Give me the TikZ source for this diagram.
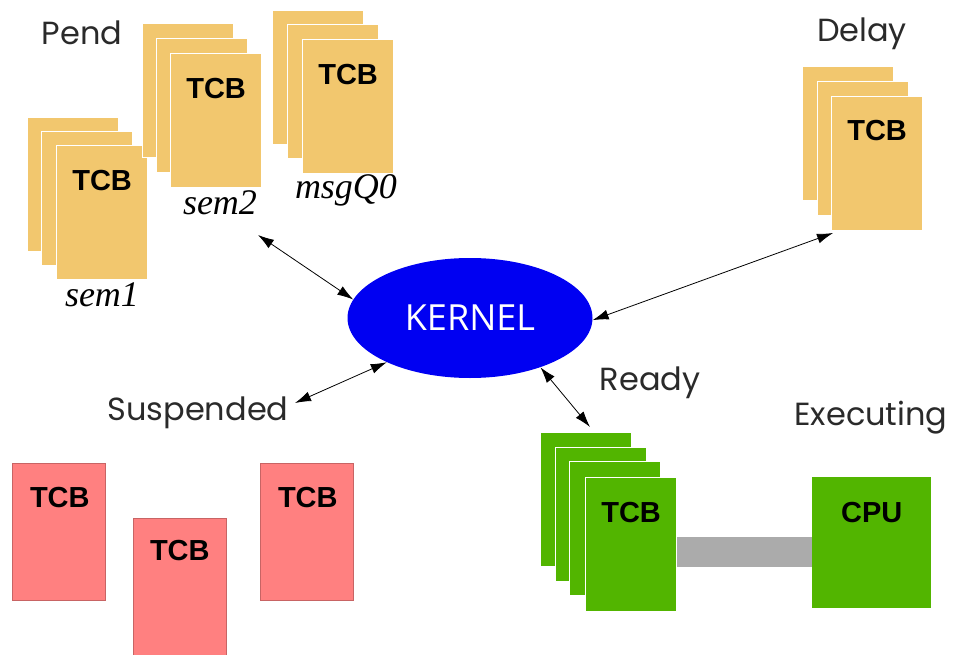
\documentclass[tikz,border=0pt]{standalone}
\usepackage{fontspec}
\usetikzlibrary{arrows.meta,shapes.geometric,calc}
\newfontfamily\lblfont{Poppins}
\newfontfamily\tcbfont{Liberation Sans}
\newfontfamily\kfont{Open Sans}
\newfontfamily\itfont{Liberation Serif}
\definecolor{cardyellow}{HTML}{F2C76E}
\definecolor{cardgreen}{HTML}{52B500}
\definecolor{cardred}{HTML}{FF8080}
\definecolor{redline}{HTML}{C86464}
\definecolor{kblue}{HTML}{0000F2}
\definecolor{bargray}{HTML}{ABABAB}
\definecolor{lblgray}{HTML}{2A2A2A}
\begin{document}
\begin{tikzpicture}[x=1pt,y=-1pt,
  card/.style={rectangle,inner sep=0pt,minimum width=91pt,minimum height=134pt,anchor=north west,draw=white,line width=1.2pt},
  ycard/.style={card,fill=cardyellow},
  gcard/.style={card,fill=cardgreen,minimum height=134pt},
  rcard/.style={card,fill=cardred,draw=redline,line width=0.6pt,minimum width=93pt,minimum height=137pt},
  tcb/.style={inner sep=0pt,font=\tcbfont\bfseries\fontsize{29}{30}\selectfont,text height=20.8pt,text depth=0pt},
  lbl/.style={inner sep=0pt,font=\lblfont\fontsize{32}{33}\selectfont,text=lblgray},
  ital/.style={inner sep=0pt,font=\itfont\itshape\fontsize{36}{37}\selectfont},
  conn/.style={{Latex[length=16pt,width=10pt]}-{Latex[length=16pt,width=10pt]},line width=0.8pt,black},
  bar/.style={line width=30pt,bargray}
]
\useasboundingbox (0,0) rectangle (953,655);

% ---- Pend: sem1
\node[ycard] (s1a) at (27,117) {};
\node[ycard] (s1b) at (41,131) {};
\node[ycard] (s1c) at (56,145) {};
\node[tcb] (s1t) at ($(s1c.north)+(0,35)$) {TCB};
\node[ital] (s1l) at (102,295) {sem1};
% ---- sem2
\node[ycard] (s2a) at (142,23) {};
\node[ycard] (s2b) at (156,38) {};
\node[ycard] (s2c) at (170,53) {};
\node[tcb] (s2t) at ($(s2c.north)+(0,35)$) {TCB};
\node[ital] (s2l) at (220,203) {sem2};
% ---- msgQ0
\node[ycard] (mqa) at (272,10) {};
\node[ycard] (mqb) at (287,24) {};
\node[ycard] (mqc) at (302,39) {};
\node[tcb] (mqt) at ($(mqc.north)+(0,35)$) {TCB};
\node[ital] (mql) at (346,190) {msgQ0};
\node[lbl] (pend) at (82,33) {Pend};

% ---- Delay
\node[ycard] (dla) at (802,66) {};
\node[ycard] (dlb) at (817,81) {};
\node[ycard] (dlc) at (831,96) {};
\node[tcb] (dlt) at ($(dlc.north)+(0,34)$) {TCB};
\node[lbl] (delay) at (862,34) {Delay};

% ---- Kernel
\node[ellipse,fill=kblue,minimum width=245pt,minimum height=120pt,inner sep=0pt,
      text=white,font=\kfont\fontsize{36}{37}\selectfont] (kernel) at (470,318) {KERNEL};

% ---- Suspended
\node[lbl] (susp) at (198,413) {Suspended};
\node[rcard] (r1) at (12,463) {};
\node[rcard] (r2) at (133,518) {};
\node[rcard] (r3) at (260,463) {};
\node[tcb] (r1t) at ($(r1.north)+(1,34)$) {TCB};
\node[tcb] (r2t) at ($(r2.north)+(0,32)$) {TCB};
\node[tcb] (r3t) at ($(r3.north)+(1,34)$) {TCB};

% ---- Ready
\node[lbl] (ready) at (650,383) {Ready};
\node[gcard] (g1) at (540,432) {};
\node[gcard] (g2) at (555,447) {};
\node[gcard] (g3) at (569,461) {};
\node[gcard] (g4) at (585,477) {};
\node[tcb] (g4t) at ($(g4.north)+(0,35)$) {TCB};

% ---- Executing
\node[lbl] (exec) at (871,418) {Executing};
\node[rectangle,inner sep=0pt,fill=cardgreen,minimum width=119pt,minimum height=131pt,anchor=north west] (cpu) at (812,477) {};
\node[tcb] (cput) at ($(cpu.north)+(0,35)$) {CPU};
\draw[bar] ([yshift=-7pt]g4.east) -- ([yshift=-7pt]g4.east -| cpu.west);

% ---- connectors
\coordinate (e1) at (258,235);
\coordinate (e2) at (833,233);
\coordinate (e3) at (295,403);
\coordinate (e4) at (590,427);
\draw[conn] (e1) -- (kernel.171);
\draw[conn] (e2) -- (kernel.359);
\draw[conn] (e3) -- (kernel.208);
\draw[conn] (kernel.325) -- (e4);
\end{tikzpicture}
\end{document}
